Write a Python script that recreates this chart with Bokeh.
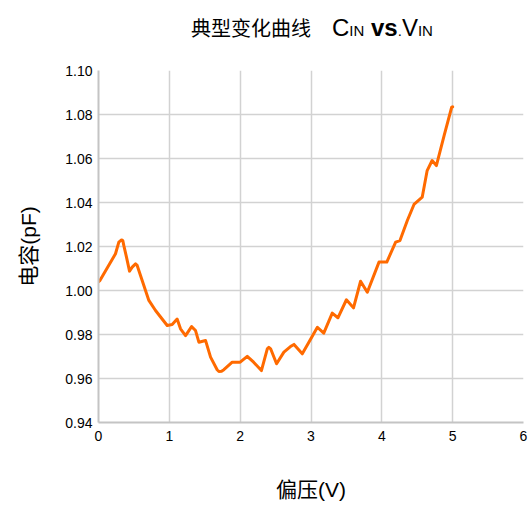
from bokeh.plotting import figure
from bokeh.models import Range1d, FixedTicker, Div
from bokeh.layouts import column
from bokeh.embed import file_html
from bokeh.resources import INLINE

# data (bias voltage V, capacitance pF)
bias_v = [0.0, 0.02, 0.24, 0.287, 0.325, 0.343, 0.357, 0.395, 0.438, 0.476, 0.523, 0.546,
          0.593, 0.711, 0.805, 0.97, 1.04, 1.11, 1.158, 1.229, 1.314, 1.37, 1.417, 1.511,
          1.582, 1.675, 1.70, 1.737, 1.77, 1.888, 2.0, 2.10, 2.19, 2.30, 2.383, 2.405, 2.43,
          2.514, 2.617, 2.71, 2.76, 2.877, 2.97, 3.09, 3.18, 3.30, 3.38, 3.50, 3.60, 3.70,
          3.795, 3.96, 4.07, 4.195, 4.256, 4.36, 4.454, 4.57, 4.64, 4.71, 4.77, 4.88, 4.986,
          5.0]
cap_pf = [1.0040, 1.0045, 1.0167, 1.0220, 1.0230, 1.0227, 1.0205, 1.0152, 1.0088, 1.0106,
          1.0121, 1.0114, 1.0068, 0.9955, 0.9909, 0.9841, 0.9845, 0.9870, 0.9826, 0.9795,
          0.9836, 0.9818, 0.9765, 0.9773, 0.9697, 0.9640, 0.9632, 0.9633, 0.9640, 0.9674,
          0.9674, 0.9701, 0.9674, 0.9636, 0.9735, 0.9742, 0.9735, 0.9667, 0.9720, 0.9745,
          0.9755, 0.9712, 0.9765, 0.9833, 0.9806, 0.9897, 0.9876, 0.9958, 0.9921, 1.0042,
          0.9992, 1.0129, 1.0129, 1.0220, 1.0227, 1.0318, 1.0391, 1.0424, 1.0545, 1.0591,
          1.0568, 1.0705, 1.0833, 1.0835]

x_ticks = [0, 1, 2, 3, 4, 5, 6]
y_ticks = [0.94, 0.96, 0.98, 1.00, 1.02, 1.04, 1.06, 1.08, 1.10]
y_tick_labels = {t: f"{t:.2f}" for t in y_ticks}

LATIN = "Liberation Sans"
CJK = "Noto Sans CJK SC"
MIXED = "Liberation Sans, Noto Sans CJK SC"

title_html = (
    "<div style=\"white-space:nowrap; padding-left:191px; padding-top:14px; color:black; line-height:28px;\">"
    f"<span style=\"font-family:'{CJK}'; font-size:20px;\">典型变化曲线</span>"
    f"<span style=\"font-family:'{LATIN}'; font-size:24px; margin-left:21px;\">C"
    "<span style=\"font-size:15px;\">IN</span> <b>vs</b>"
    "<span style=\"font-size:15px;\">.</span>V"
    "<span style=\"font-size:15px;\">IN</span></span>"
    "</div>"
)
title_div = Div(text=title_html, width=529, height=52, margin=(0, 0, 0, 0))

p = figure(width=529, height=453, output_backend="svg", toolbar_location=None,
           x_range=Range1d(0, 6), y_range=Range1d(0.94, 1.10),
           min_border_left=98, min_border_right=6, min_border_top=18, min_border_bottom=83)
p.outline_line_color = None
p.background_fill_color = "white"

p.line(bias_v, cap_pf, line_color="#FF6A00", line_width=3, line_join="round", line_cap="round")

for ax in (p.xaxis[0], p.yaxis[0]):
    ax.axis_line_color = "#c4c4c4"
    ax.axis_line_width = 2
    ax.major_tick_line_color = None
    ax.minor_tick_line_color = None
    ax.major_tick_out = 0
    ax.major_tick_in = 0
    ax.minor_tick_out = 0
    ax.minor_tick_in = 0
    ax.major_label_text_font = LATIN
    ax.major_label_text_font_size = "14px"
    ax.major_label_text_color = "black"
    ax.axis_label_text_font = MIXED
    ax.axis_label_text_font_size = "21px"
    ax.axis_label_text_font_style = "normal"
    ax.axis_label_text_color = "black"
    ax.axis_label_text_line_height = 1.0

p.xaxis.ticker = FixedTicker(ticks=x_ticks)
p.yaxis.ticker = FixedTicker(ticks=y_ticks)
p.yaxis.major_label_overrides = y_tick_labels
p.xaxis.major_label_standoff = 8
p.yaxis.major_label_standoff = 6
p.xaxis.axis_label = "偏压(V)"
p.yaxis.axis_label = "电容(pF)"
p.xaxis.axis_label_standoff = 34
p.yaxis.axis_label_standoff = 22

p.xgrid.ticker = FixedTicker(ticks=x_ticks)
p.ygrid.ticker = FixedTicker(ticks=y_ticks)
for g in (p.xgrid[0], p.ygrid[0]):
    g.grid_line_color = "#d2d2d2"
    g.grid_line_width = 1.5

layout = column(title_div, p, spacing=0)
open("out.html", "w").write(file_html(layout, INLINE))
